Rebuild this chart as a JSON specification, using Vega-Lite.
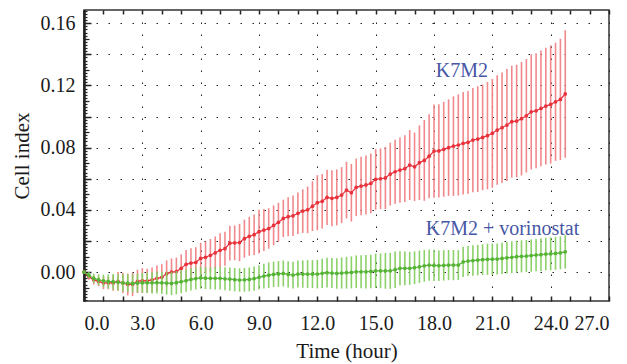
{
  "$schema": "https://vega.github.io/schema/vega-lite/v6.json",
  "width": 525,
  "height": 291,
  "autosize": {"type": "none"},
  "padding": {"left": 84, "top": 10, "right": 18, "bottom": 63},
  "background": "white",
  "config": {
    "view": {"stroke": "#333", "strokeWidth": 1.5},
    "font": "Liberation Serif",
    "axis": {"labelFont": "Liberation Serif", "titleFont": "Liberation Serif", "labelColor": "#1a1a1a", "titleColor": "#1a1a1a", "tickColor": "#222", "domainColor": "#222"}
  },
  "datasets": {
    "red": [
      {"t":0,"v":0,"e":0.001},{"t":0.25,"v":-0.003,"e":0.002},{"t":0.5,"v":-0.005,"e":0.003},{"t":0.75,"v":-0.006,"e":0.003},
      {"t":1,"v":-0.007,"e":0.004},{"t":1.25,"v":-0.007,"e":0.004},{"t":1.5,"v":-0.007,"e":0.005},{"t":1.75,"v":-0.006,"e":0.006},
      {"t":2,"v":-0.007,"e":0.0065},{"t":2.25,"v":-0.008,"e":0.007},{"t":2.5,"v":-0.008,"e":0.0075},{"t":2.75,"v":-0.006,"e":0.0075},
      {"t":3,"v":-0.0055,"e":0.008},{"t":3.25,"v":-0.0056,"e":0.0078},{"t":3.5,"v":-0.005,"e":0.008},{"t":3.75,"v":-0.004,"e":0.0082},
      {"t":4,"v":-0.0034,"e":0.0085},{"t":4.25,"v":-0.001,"e":0.0085},{"t":4.5,"v":0,"e":0.0088},{"t":4.75,"v":0.0003,"e":0.009},
      {"t":5,"v":0.0024,"e":0.009},{"t":5.25,"v":0.005,"e":0.0092},{"t":5.5,"v":0.0058,"e":0.0095},{"t":5.75,"v":0.0062,"e":0.0098},
      {"t":6,"v":0.0088,"e":0.01},{"t":6.25,"v":0.0095,"e":0.0102},{"t":6.5,"v":0.0108,"e":0.0105},{"t":6.75,"v":0.0124,"e":0.0105},
      {"t":7,"v":0.014,"e":0.011},{"t":7.25,"v":0.015,"e":0.011},{"t":7.5,"v":0.0186,"e":0.0112},{"t":7.75,"v":0.0188,"e":0.0112},
      {"t":8,"v":0.019,"e":0.012},{"t":8.25,"v":0.0215,"e":0.0122},{"t":8.5,"v":0.023,"e":0.0125},{"t":8.75,"v":0.024,"e":0.013},
      {"t":9,"v":0.026,"e":0.014},{"t":9.25,"v":0.027,"e":0.0135},{"t":9.5,"v":0.028,"e":0.013},{"t":9.75,"v":0.03,"e":0.0128},
      {"t":10,"v":0.032,"e":0.0125},{"t":10.25,"v":0.0345,"e":0.012},{"t":10.5,"v":0.0356,"e":0.0125},{"t":10.75,"v":0.0362,"e":0.013},
      {"t":11,"v":0.0378,"e":0.0134},{"t":11.25,"v":0.0392,"e":0.014},{"t":11.5,"v":0.04,"e":0.015},{"t":11.75,"v":0.0424,"e":0.016},
      {"t":12,"v":0.0446,"e":0.0177},{"t":12.25,"v":0.0455,"e":0.0175},{"t":12.5,"v":0.048,"e":0.0178},{"t":12.75,"v":0.0474,"e":0.018},
      {"t":13,"v":0.048,"e":0.018},{"t":13.25,"v":0.0495,"e":0.018},{"t":13.5,"v":0.0527,"e":0.0182},{"t":13.75,"v":0.051,"e":0.0185},
      {"t":14,"v":0.0545,"e":0.0185},{"t":14.25,"v":0.0553,"e":0.0188},{"t":14.5,"v":0.056,"e":0.019},{"t":14.75,"v":0.057,"e":0.0192},
      {"t":15,"v":0.0596,"e":0.0195},{"t":15.25,"v":0.06,"e":0.0195},{"t":15.5,"v":0.0605,"e":0.02},{"t":15.75,"v":0.063,"e":0.0202},
      {"t":16,"v":0.0645,"e":0.0205},{"t":16.25,"v":0.0656,"e":0.021},{"t":16.5,"v":0.0665,"e":0.0215},{"t":16.75,"v":0.0688,"e":0.0225},
      {"t":17,"v":0.0677,"e":0.022},{"t":17.25,"v":0.0703,"e":0.024},{"t":17.5,"v":0.0718,"e":0.026},{"t":17.75,"v":0.0745,"e":0.027},
      {"t":18,"v":0.0778,"e":0.03},{"t":18.25,"v":0.0779,"e":0.03},{"t":18.5,"v":0.0789,"e":0.0305},{"t":18.75,"v":0.08,"e":0.031},
      {"t":19,"v":0.081,"e":0.032},{"t":19.25,"v":0.0817,"e":0.0325},{"t":19.5,"v":0.0828,"e":0.033},{"t":19.75,"v":0.0834,"e":0.033},
      {"t":20,"v":0.0849,"e":0.0335},{"t":20.25,"v":0.0855,"e":0.034},{"t":20.5,"v":0.0866,"e":0.034},{"t":20.75,"v":0.0877,"e":0.0345},
      {"t":21,"v":0.0892,"e":0.035},{"t":21.25,"v":0.0913,"e":0.0352},{"t":21.5,"v":0.0928,"e":0.0355},{"t":21.75,"v":0.0945,"e":0.036},
      {"t":22,"v":0.0967,"e":0.036},{"t":22.25,"v":0.0971,"e":0.0362},{"t":22.5,"v":0.0986,"e":0.0365},{"t":22.75,"v":0.1005,"e":0.0365},
      {"t":23,"v":0.103,"e":0.037},{"t":23.25,"v":0.1037,"e":0.037},{"t":23.5,"v":0.1052,"e":0.0372},{"t":23.75,"v":0.1067,"e":0.0375},
      {"t":24,"v":0.1078,"e":0.038},{"t":24.25,"v":0.1095,"e":0.038},{"t":24.5,"v":0.111,"e":0.039},{"t":24.75,"v":0.1145,"e":0.041}
    ],
    "green": [
      {"t":0,"v":0,"e":0.001},{"t":0.25,"v":-0.002,"e":0.002},{"t":0.5,"v":-0.004,"e":0.003},{"t":0.75,"v":-0.005,"e":0.0035},
      {"t":1,"v":-0.0056,"e":0.004},{"t":1.25,"v":-0.006,"e":0.0045},{"t":1.5,"v":-0.0062,"e":0.005},{"t":1.75,"v":-0.0066,"e":0.0052},
      {"t":2,"v":-0.0069,"e":0.0055},{"t":2.25,"v":-0.0071,"e":0.0056},{"t":2.5,"v":-0.0073,"e":0.0058},{"t":2.75,"v":-0.0071,"e":0.006},
      {"t":3,"v":-0.0069,"e":0.0064},{"t":3.25,"v":-0.0069,"e":0.0066},{"t":3.5,"v":-0.0069,"e":0.0068},{"t":3.75,"v":-0.0068,"e":0.007},
      {"t":4,"v":-0.0069,"e":0.0072},{"t":4.25,"v":-0.0071,"e":0.0074},{"t":4.5,"v":-0.0073,"e":0.0075},{"t":4.75,"v":-0.0068,"e":0.0075},
      {"t":5,"v":-0.0062,"e":0.0074},{"t":5.25,"v":-0.0055,"e":0.0072},{"t":5.5,"v":-0.0047,"e":0.0072},{"t":5.75,"v":-0.0042,"e":0.007},
      {"t":6,"v":-0.0037,"e":0.007},{"t":6.25,"v":-0.0039,"e":0.007},{"t":6.5,"v":-0.004,"e":0.007},{"t":6.75,"v":-0.004,"e":0.0072},
      {"t":7,"v":-0.004,"e":0.0072},{"t":7.25,"v":-0.0043,"e":0.0074},{"t":7.5,"v":-0.0045,"e":0.0075},{"t":7.75,"v":-0.0049,"e":0.0075},
      {"t":8,"v":-0.0051,"e":0.0075},{"t":8.25,"v":-0.005,"e":0.0076},{"t":8.5,"v":-0.0047,"e":0.0077},{"t":8.75,"v":-0.0042,"e":0.0078},
      {"t":9,"v":-0.0034,"e":0.0078},{"t":9.25,"v":-0.0026,"e":0.008},{"t":9.5,"v":-0.002,"e":0.0082},{"t":9.75,"v":-0.0015,"e":0.0082},
      {"t":10,"v":-0.0012,"e":0.0083},{"t":10.25,"v":-0.0009,"e":0.0084},{"t":10.5,"v":-0.0015,"e":0.0085},{"t":10.75,"v":-0.0019,"e":0.0086},
      {"t":11,"v":-0.0013,"e":0.0087},{"t":11.25,"v":-0.0013,"e":0.0088},{"t":11.5,"v":-0.0013,"e":0.009},{"t":11.75,"v":-0.0013,"e":0.009},
      {"t":12,"v":-0.0013,"e":0.0092},{"t":12.25,"v":-0.0008,"e":0.0094},{"t":12.5,"v":-0.0004,"e":0.0096},{"t":12.75,"v":-0.0006,"e":0.0097},
      {"t":13,"v":-0.0009,"e":0.0098},{"t":13.25,"v":-0.0006,"e":0.01},{"t":13.5,"v":-0.0004,"e":0.0102},{"t":13.75,"v":-0.0002,"e":0.0103},
      {"t":14,"v":0.0002,"e":0.0105},{"t":14.25,"v":0.0002,"e":0.0106},{"t":14.5,"v":0.0002,"e":0.0107},{"t":14.75,"v":0.0004,"e":0.0108},
      {"t":15,"v":0.0008,"e":0.011},{"t":15.25,"v":0.0008,"e":0.0112},{"t":15.5,"v":0.0008,"e":0.0115},{"t":15.75,"v":0.0008,"e":0.0116},
      {"t":16,"v":0.0015,"e":0.0118},{"t":16.25,"v":0.0024,"e":0.011},{"t":16.5,"v":0.0024,"e":0.0108},{"t":16.75,"v":0.0024,"e":0.0106},
      {"t":17,"v":0.0028,"e":0.0105},{"t":17.25,"v":0.0034,"e":0.0104},{"t":17.5,"v":0.004,"e":0.0102},{"t":17.75,"v":0.0045,"e":0.01},
      {"t":18,"v":0.0043,"e":0.01},{"t":18.25,"v":0.0041,"e":0.0098},{"t":18.5,"v":0.0043,"e":0.0098},{"t":18.75,"v":0.0045,"e":0.0097},
      {"t":19,"v":0.0045,"e":0.0097},{"t":19.25,"v":0.0045,"e":0.0096},{"t":19.5,"v":0.0065,"e":0.0097},{"t":19.75,"v":0.0071,"e":0.0097},
      {"t":20,"v":0.0074,"e":0.0098},{"t":20.25,"v":0.0077,"e":0.0098},{"t":20.5,"v":0.008,"e":0.0099},{"t":20.75,"v":0.0082,"e":0.01},
      {"t":21,"v":0.0083,"e":0.01},{"t":21.25,"v":0.0084,"e":0.01},{"t":21.5,"v":0.0088,"e":0.0101},{"t":21.75,"v":0.0092,"e":0.0101},
      {"t":22,"v":0.0095,"e":0.0102},{"t":22.25,"v":0.0099,"e":0.0102},{"t":22.5,"v":0.0101,"e":0.0103},{"t":22.75,"v":0.0103,"e":0.0103},
      {"t":23,"v":0.0106,"e":0.0104},{"t":23.25,"v":0.0109,"e":0.0104},{"t":23.5,"v":0.0112,"e":0.0105},{"t":23.75,"v":0.0116,"e":0.0105},
      {"t":24,"v":0.0117,"e":0.0106},{"t":24.25,"v":0.012,"e":0.0106},{"t":24.5,"v":0.0124,"e":0.0106},{"t":24.75,"v":0.013,"e":0.0107}
    ],
    "labels": [
      {"t":19.43,"v":0.1252,"label":"K7M2"},
      {"t":21.52,"v":0.0238,"label":"K7M2 + vorinostat"}
    ]
  },
  "resolve": {"axis": {"x": "independent", "y": "independent"}},
  "layer": [
    {
      "data": {"name": "red"},
      "mark": {"type": "errorbar", "color": "#f07c80", "opacity": 0.9, "thickness": 1.6},
      "encoding": {
        "x": {"field": "t", "type": "quantitative", "scale": {"domain": [0, 27], "nice": false, "zero": false}, "axis": null},
        "y": {"field": "v", "type": "quantitative", "scale": {"domain": [-0.0186, 0.1685], "nice": false, "zero": false}, "axis": null},
        "yError": {"field": "e"}
      }
    },
    {
      "data": {"name": "red"},
      "mark": {"type": "line", "color": "#e8323c", "strokeWidth": 1.2},
      "encoding": {
        "x": {"field": "t", "type": "quantitative", "axis": {"orient": "bottom", "values": [0,3,6,9,12,15,18,21,24,27], "format": ".1f", "title": "Time (hour)", "grid": true, "gridDash": [1.5, 10.5], "gridColor": "#222", "gridWidth": 1, "ticks": false, "domain": false, "labelPadding": 12, "labelFontSize": 20, "titleFontSize": 21, "titleFontWeight": "normal", "titlePadding": 7}},
        "y": {"field": "v", "type": "quantitative", "axis": {"orient": "left", "values": [0, 0.04, 0.08, 0.12, 0.16], "format": ".2f", "title": "Cell index", "grid": false, "ticks": false, "domain": true, "domainWidth": 2.5, "labelPadding": 9, "labelFontSize": 20, "titleFontSize": 21, "titleFontWeight": "normal", "titlePadding": 8}}
      }
    },
    {
      "data": {"name": "red"},
      "mark": {"type": "point", "filled": true, "color": "#e8323c", "size": 14, "opacity": 1},
      "encoding": {
        "x": {"field": "t", "type": "quantitative", "axis": {"orient": "bottom", "values": [0,1,2,3,4,5,6,7,8,9,10,11,12,13,14,15,16,17,18,19,20,21,22,23,24,25,26,27], "labels": false, "title": null, "grid": false, "domain": false, "tickSize": -5, "tickWidth": 1.5}},
        "y": {"field": "v", "type": "quantitative", "axis": {"orient": "left", "values": [0, 0.02, 0.04, 0.06, 0.08, 0.1, 0.12, 0.14, 0.16], "labels": false, "title": null, "grid": true, "gridDash": [1.5, 10.5], "gridColor": "#222", "gridWidth": 1, "domain": false, "tickSize": -7, "tickWidth": 1.5}}
      }
    },
    {
      "data": {"name": "green"},
      "mark": {"type": "errorbar", "color": "#86cf62", "opacity": 0.95, "thickness": 1.6},
      "encoding": {
        "x": {"field": "t", "type": "quantitative", "axis": null},
        "y": {"field": "v", "type": "quantitative", "axis": null},
        "yError": {"field": "e"}
      }
    },
    {
      "data": {"name": "green"},
      "mark": {"type": "line", "color": "#55b436", "strokeWidth": 1.2},
      "encoding": {
        "x": {"field": "t", "type": "quantitative", "axis": {"orient": "top", "values": [0,1,2,3,4,5,6,7,8,9,10,11,12,13,14,15,16,17,18,19,20,21,22,23,24,25,26,27], "labels": false, "title": null, "grid": false, "domain": false, "tickSize": -4, "tickWidth": 1.5}},
        "y": {"field": "v", "type": "quantitative", "axis": {"orient": "left", "values": [-0.01, 0.01, 0.03, 0.05, 0.07, 0.09, 0.11, 0.13, 0.15], "labels": false, "title": null, "grid": false, "domain": false, "tickSize": -5, "tickWidth": 1.2}}
      }
    },
    {
      "data": {"name": "green"},
      "mark": {"type": "point", "filled": true, "color": "#55b436", "size": 14, "opacity": 1},
      "encoding": {
        "x": {"field": "t", "type": "quantitative", "axis": null},
        "y": {"field": "v", "type": "quantitative", "axis": {"orient": "left", "values": [-0.018,-0.016,-0.014,-0.012,-0.01,-0.008,-0.006,-0.004,-0.002,0,0.002,0.004,0.006,0.008,0.01,0.012,0.014,0.016,0.018,0.02,0.022,0.024,0.026,0.028,0.03,0.032,0.034,0.036,0.038,0.04,0.042,0.044,0.046,0.048,0.05,0.052,0.054,0.056,0.058,0.06,0.062,0.064,0.066,0.068,0.07,0.072,0.074,0.076,0.078,0.08,0.082,0.084,0.086,0.088,0.09,0.092,0.094,0.096,0.098,0.1,0.102,0.104,0.106,0.108,0.11,0.112,0.114,0.116,0.118,0.12,0.122,0.124,0.126,0.128,0.13,0.132,0.134,0.136,0.138,0.14,0.142,0.144,0.146,0.148,0.15,0.152,0.154,0.156,0.158,0.16,0.162,0.164,0.166,0.168], "labels": false, "title": null, "grid": false, "domain": false, "tickSize": -3, "tickWidth": 1.2}}
      }
    },
    {
      "data": {"name": "labels"},
      "mark": {"type": "text", "font": "Liberation Serif", "fontSize": 20, "color": "#4757a6", "align": "center", "baseline": "alphabetic"},
      "encoding": {
        "x": {"field": "t", "type": "quantitative", "axis": null},
        "y": {"field": "v", "type": "quantitative", "axis": null},
        "text": {"field": "label"}
      }
    }
  ]
}
